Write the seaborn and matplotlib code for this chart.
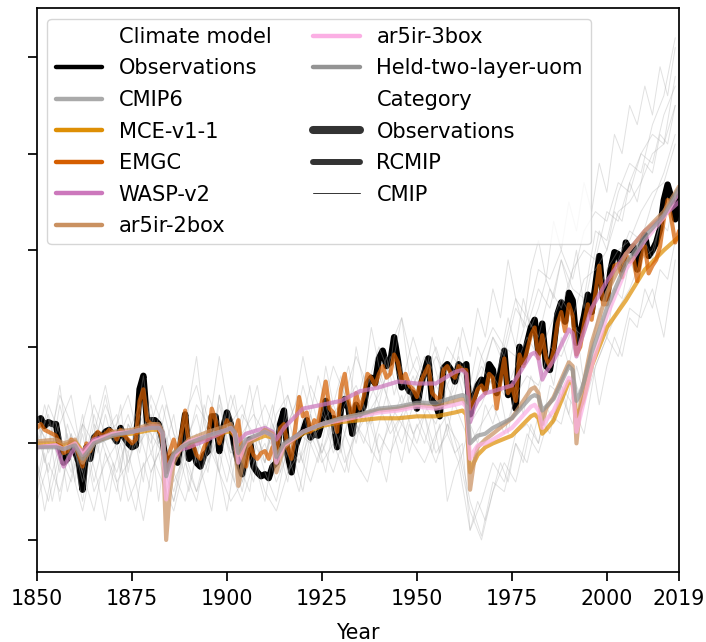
import numpy as np
import pandas as pd
import matplotlib
matplotlib.use("Agg")
import matplotlib.pyplot as plt
import seaborn as sns
from matplotlib.lines import Line2D

# ---------------- data ----------------
OBS_YEARS = list(range(1850, 2020))
OBS = [
    0.12, 0.13, 0.09, 0.11, 0.10, 0.10, -0.02, -0.10, -0.08, 0.00,
    -0.04, -0.10, -0.24, -0.02, -0.08, 0.03, 0.05, 0.03, 0.06, 0.07,
    0.04, 0.01, 0.08, 0.03, 0.00, -0.02, -0.01, 0.28, 0.35, 0.10,
    0.12, 0.12, 0.10, 0.02, -0.10, -0.08, -0.06, -0.10, 0.02, 0.15,
    -0.08, -0.02, -0.10, -0.12, -0.06, -0.04, 0.14, 0.14, -0.04, 0.08,
    0.16, 0.10, -0.02, -0.10, -0.16, -0.04, 0.02, -0.12, -0.15, -0.17,
    -0.16, -0.18, -0.12, -0.10, 0.10, 0.17, -0.06, -0.15, -0.02, 0.04,
    0.06, 0.12, 0.03, 0.05, 0.04, 0.11, 0.22, 0.12, 0.13, -0.02,
    0.18, 0.23, 0.18, 0.05, 0.20, 0.15, 0.19, 0.31, 0.34, 0.31,
    0.44, 0.48, 0.40, 0.42, 0.55, 0.43, 0.29, 0.31, 0.27, 0.26,
    0.18, 0.30, 0.37, 0.44, 0.22, 0.20, 0.14, 0.39, 0.41, 0.38,
    0.32, 0.41, 0.39, 0.41, 0.15, 0.24, 0.30, 0.33, 0.28, 0.41,
    0.38, 0.26, 0.37, 0.48, 0.25, 0.31, 0.18, 0.50, 0.42, 0.52,
    0.60, 0.64, 0.47, 0.62, 0.40, 0.38, 0.50, 0.67, 0.73, 0.63,
    0.78, 0.74, 0.52, 0.57, 0.66, 0.77, 0.68, 0.82, 0.97, 0.75,
    0.75, 0.90, 0.99, 0.98, 0.90, 1.04, 1.00, 1.02, 0.90, 1.02,
    1.08, 0.97, 1.00, 1.04, 1.11, 1.26, 1.34, 1.27, 1.16, 1.28,
]
EMGC = [
    0.08, 0.10, 0.07, 0.06, 0.05, 0.04, 0.00, -0.05, -0.04, 0.02,
    0.00, -0.06, -0.12, 0.00, -0.04, 0.03, 0.06, 0.04, 0.05, 0.07,
    0.06, 0.02, 0.07, 0.04, 0.02, 0.00, 0.02, 0.22, 0.28, 0.12,
    0.10, 0.10, 0.08, 0.02, -0.12, -0.04, 0.02, -0.06, 0.05, 0.17,
    -0.02, 0.00, -0.06, -0.08, -0.02, 0.02, 0.18, 0.12, 0.00, 0.06,
    0.12, 0.08, 0.04, 0.12, -0.06, -0.12, 0.00, -0.06, -0.08, -0.05,
    -0.04, -0.08, -0.02, -0.06, 0.08, 0.10, -0.02, -0.08, 0.08, 0.24,
    0.14, 0.16, 0.06, 0.12, 0.10, 0.22, 0.32, 0.18, 0.16, 0.06,
    0.28, 0.36, 0.22, 0.12, 0.26, 0.18, 0.24, 0.36, 0.34, 0.30,
    0.36, 0.40, 0.34, 0.36, 0.46, 0.42, 0.32, 0.36, 0.30, 0.28,
    0.24, 0.32, 0.36, 0.40, 0.26, 0.24, 0.22, 0.38, 0.40, 0.36,
    0.34, 0.40, 0.38, 0.38, 0.18, 0.22, 0.28, 0.30, 0.26, 0.36,
    0.34, 0.18, 0.32, 0.44, 0.26, 0.30, 0.22, 0.46, 0.40, 0.48,
    0.56, 0.60, 0.44, 0.56, 0.44, 0.40, 0.48, 0.62, 0.68, 0.58,
    0.72, 0.66, 0.46, 0.50, 0.62, 0.72, 0.64, 0.78, 0.92, 0.72,
    0.72, 0.84, 0.92, 0.93, 0.86, 0.98, 0.94, 0.96, 0.84, 0.96,
    1.02, 0.88, 0.92, 0.95, 1.02, 1.16, 1.26, 1.16, 1.04, 1.10,
]

MODEL_YEARS = [
    1850, 1855, 1857, 1860, 1862, 1865, 1870, 1875, 1880, 1882,
    1883, 1884, 1885, 1886, 1888, 1890, 1895, 1900, 1901, 1902,
    1903, 1905, 1910, 1912, 1913, 1915, 1920, 1925, 1930, 1935,
    1940, 1945, 1950, 1955, 1960, 1962, 1963, 1964, 1965, 1966,
    1968, 1970, 1975, 1980, 1981, 1982, 1983, 1984, 1986, 1990,
    1991, 1992, 1993, 1994, 1996, 2000, 2005, 2010, 2015, 2019,
]
MCE = [
    0.00, 0.00, -0.01, 0.01, -0.04, 0.01, 0.04, 0.05, 0.07, 0.07,
    0.04, -0.15, -0.10, -0.05, -0.02, 0.00, 0.03, 0.06, 0.06, 0.04,
    -0.06, 0.00, 0.04, 0.03, -0.06, -0.01, 0.05, 0.09, 0.11, 0.12,
    0.13, 0.13, 0.14, 0.14, 0.16, 0.17, 0.15, -0.15, -0.10, -0.06,
    -0.02, 0.00, 0.04, 0.14, 0.15, 0.13, 0.05, 0.07, 0.12, 0.32,
    0.31, 0.14, 0.18, 0.24, 0.40, 0.60, 0.74, 0.90, 1.00, 1.07,
]
WASP = [
    -0.02, -0.01, -0.12, -0.02, -0.04, 0.02, 0.05, 0.06, 0.09, 0.09,
    0.06, -0.15, -0.10, -0.06, -0.03, -0.02, 0.02, 0.07, 0.08, 0.06,
    0.01, 0.05, 0.08, 0.06, 0.02, 0.08, 0.18, 0.20, 0.22, 0.27,
    0.29, 0.32, 0.31, 0.31, 0.37, 0.38, 0.36, 0.11, 0.18, 0.22,
    0.26, 0.27, 0.30, 0.46, 0.47, 0.44, 0.33, 0.37, 0.43, 0.59,
    0.57, 0.45, 0.52, 0.58, 0.70, 0.84, 0.98, 1.10, 1.18, 1.25,
]
AR5IR_2BOX = [
    0.01, 0.02, 0.00, 0.02, -0.10, 0.00, 0.06, 0.07, 0.10, 0.10,
    0.06, -0.50, -0.25, -0.10, -0.02, 0.02, 0.06, 0.09, 0.10, 0.06,
    -0.22, -0.02, 0.07, 0.05, -0.15, -0.02, 0.06, 0.10, 0.13, 0.15,
    0.17, 0.18, 0.20, 0.19, 0.22, 0.23, 0.20, -0.24, -0.10, -0.02,
    0.02, 0.05, 0.13, 0.28, 0.29, 0.26, 0.10, 0.18, 0.24, 0.42,
    0.40, 0.00, 0.20, 0.32, 0.52, 0.78, 0.98, 1.10, 1.20, 1.33,
]
AR5IR_3BOX = [
    -0.02, -0.01, -0.03, 0.00, -0.06, 0.01, 0.05, 0.06, 0.08, 0.08,
    0.05, -0.29, -0.15, -0.07, -0.02, 0.01, 0.04, 0.07, 0.08, 0.05,
    -0.10, 0.01, 0.06, 0.04, -0.10, -0.01, 0.06, 0.10, 0.12, 0.14,
    0.16, 0.17, 0.19, 0.18, 0.20, 0.21, 0.19, -0.08, -0.04, -0.01,
    0.00, 0.02, 0.08, 0.19, 0.20, 0.17, 0.08, 0.12, 0.17, 0.34,
    0.32, 0.06, 0.14, 0.22, 0.40, 0.66, 0.90, 1.05, 1.17, 1.30,
]
HELD = [
    -0.02, -0.02, -0.03, -0.01, -0.08, 0.00, 0.04, 0.06, 0.08, 0.08,
    0.06, -0.17, -0.10, -0.05, -0.02, 0.00, 0.04, 0.07, 0.08, 0.06,
    -0.05, 0.02, 0.06, 0.04, -0.07, 0.00, 0.06, 0.10, 0.13, 0.15,
    0.18, 0.19, 0.21, 0.21, 0.24, 0.25, 0.24, 0.00, 0.02, 0.04,
    0.05, 0.08, 0.13, 0.24, 0.25, 0.24, 0.17, 0.19, 0.23, 0.40,
    0.38, 0.22, 0.26, 0.32, 0.47, 0.70, 0.93, 1.07, 1.18, 1.32,
]

# CMIP6 members, every third year
CMIP_YEARS_A = list(range(1850, 2020, 3))
CMIP_1 = [0.05, -0.15, 0.20, -0.05, 0.10, -0.20, 0.05, 0.15, -0.10, 0.10,
          0.05, -0.05, -0.25, 0.00, 0.15, -0.10, 0.20, -0.05, 0.00, -0.20,
          0.10, 0.00, 0.15, -0.10, 0.05, 0.20, 0.00, 0.30, 0.10, 0.35,
          0.20, 0.45, 0.30, 0.55, 0.35, 0.50, 0.30, 0.45, 0.20, 0.35,
          0.55, 0.45, 0.70, 0.60, 0.80, 0.70, 0.95, 0.80, 0.75, 1.10,
          1.05, 1.30, 1.45, 1.40, 1.65, 1.80, 2.10]
CMIP_2 = [-0.20, 0.10, -0.30, 0.05, -0.15, 0.15, -0.05, -0.25, 0.10, 0.00,
          0.20, -0.10, -0.30, -0.05, 0.05, -0.15, 0.25, 0.00, -0.25, 0.05,
          -0.15, -0.30, 0.00, -0.10, 0.15, -0.05, 0.10, -0.10, 0.05, 0.15,
          -0.05, 0.10, 0.25, 0.05, 0.15, -0.05, 0.05, -0.10, -0.45, -0.30,
          -0.10, -0.20, 0.05, 0.10, 0.00, 0.30, 0.25, 0.10, 0.35, 0.60,
          0.80, 0.95, 1.10, 1.05, 1.25, 1.40, 1.60]
CMIP_3 = [0.15, -0.05, 0.10, 0.25, -0.10, 0.05, 0.30, 0.00, 0.15, -0.05,
          0.25, 0.10, -0.10, 0.15, 0.30, 0.05, 0.45, 0.10, 0.20, 0.00,
          -0.10, 0.15, 0.25, 0.05, 0.30, 0.15, 0.40, 0.25, 0.45, 0.30,
          0.50, 0.35, 0.65, 0.40, 0.30, 0.45, 0.35, 0.55, 0.25, 0.40,
          0.30, 0.50, 0.45, 0.65, 0.55, 0.80, 0.70, 0.90, 1.00, 0.95,
          1.20, 1.15, 1.35, 1.50, 1.45, 1.70, 1.85]
CMIP_4 = [-0.10, -0.30, -0.05, -0.20, 0.05, -0.25, -0.10, 0.00, -0.30, -0.15,
          -0.05, -0.20, -0.35, -0.10, -0.25, 0.00, -0.15, -0.30, -0.20, -0.05,
          -0.25, -0.35, -0.15, -0.05, -0.20, 0.00, -0.15, 0.05, -0.10, -0.20,
          0.05, -0.05, 0.10, 0.00, -0.10, 0.05, 0.15, -0.05, -0.35, -0.50,
          -0.25, -0.10, -0.20, 0.05, -0.05, 0.15, 0.10, 0.35, 0.20, 0.40,
          0.55, 0.45, 0.70, 0.65, 0.80, 0.55, 0.95]
CMIP_5 = [0.00, 0.15, -0.10, 0.05, -0.20, 0.10, 0.00, -0.15, 0.05, 0.20,
          -0.05, 0.10, -0.15, -0.30, -0.05, 0.10, 0.00, 0.15, -0.10, 0.05,
          -0.05, 0.10, -0.15, 0.05, 0.00, 0.10, 0.20, 0.05, 0.25, 0.10,
          0.20, 0.05, 0.15, 0.30, 0.20, 0.10, 0.30, 0.15, 0.00, 0.10,
          0.20, 0.05, 0.25, 0.35, 0.30, 0.50, 0.45, 0.60, 0.55, 0.75,
          0.90, 1.00, 1.05, 1.20, 1.30, 1.35, 1.55]
CMIP_6 = [-0.05, 0.20, 0.05, -0.15, 0.10, 0.00, 0.20, 0.05, -0.05, 0.15,
          0.00, 0.20, -0.05, 0.10, -0.10, 0.25, 0.10, -0.05, 0.15, 0.05,
          0.20, 0.05, -0.05, 0.20, 0.10, -0.05, 0.15, 0.25, 0.05, 0.20,
          0.35, 0.20, 0.10, 0.30, 0.45, 0.30, 0.50, 0.40, 0.20, 0.45,
          0.60, 0.50, 0.75, 0.65, 0.90, 0.85, 1.00, 0.85, 1.10, 1.20,
          1.15, 1.35, 1.30, 1.50, 1.60, 1.55, 1.90]
CMIP_7 = [-0.30, -0.10, -0.25, 0.00, -0.15, -0.35, -0.05, -0.20, -0.10, 0.05,
          -0.15, 0.00, -0.20, -0.05, -0.25, -0.10, 0.05, -0.15, -0.30, -0.10,
          0.00, -0.20, -0.05, -0.25, 0.05, -0.10, 0.00, -0.15, 0.10, 0.00,
          -0.10, 0.15, 0.00, 0.20, 0.05, -0.10, 0.10, 0.00, -0.30, -0.48,
          -0.20, -0.25, 0.00, -0.10, 0.15, 0.05, 0.30, 0.20, 0.05, 0.40,
          0.55, 0.70, 0.80, 0.95, 1.00, 1.20, 1.30]
CMIP_8 = [0.10, 0.00, 0.25, 0.10, -0.05, 0.20, 0.05, 0.10, 0.25, 0.00,
          0.10, 0.30, 0.05, -0.05, 0.20, 0.10, 0.00, 0.25, 0.05, 0.15,
          0.05, -0.05, 0.10, 0.25, 0.00, 0.15, 0.05, 0.20, 0.30, 0.15,
          0.25, 0.40, 0.20, 0.35, 0.15, 0.30, 0.20, 0.35, 0.10, 0.20,
          0.35, 0.25, 0.40, 0.55, 0.45, 0.60, 0.75, 0.65, 0.85, 0.90,
          1.00, 1.20, 1.25, 1.35, 1.50, 1.55, 1.75]
# CMIP6 members, every second year
CMIP_YEARS_B = list(range(1850, 2020, 2))
CMIP_9 = [0.20, -0.10, 0.05, 0.30, 0.00, -0.20, 0.10, 0.25, -0.05, 0.15,
          0.00, 0.20, -0.15, 0.10, 0.35, 0.05, -0.30, 0.00, 0.15, -0.10,
          0.20, 0.45, 0.10, -0.05, 0.25, 0.00, -0.20, 0.10, 0.30, 0.05,
          -0.10, 0.15, 0.35, 0.10, 0.20, 0.45, 0.25, 0.10, 0.40, 0.20,
          0.35, 0.15, 0.50, 0.30, 0.60, 0.40, 0.25, 0.55, 0.65, 0.35,
          0.45, 0.30, 0.55, 0.40, 0.20, 0.35, 0.60, 0.45, 0.70, 0.55,
          0.80, 0.65, 0.95, 0.75, 0.60, 0.90, 1.05, 0.85, 1.15, 1.00,
          1.25, 1.10, 1.35, 1.20, 1.45, 1.30, 1.60, 1.50, 1.75, 1.65,
          1.85, 1.70, 1.95, 1.80, 2.05]
CMIP_10 = [-0.25, -0.05, -0.30, -0.10, 0.05, -0.20, -0.35, -0.15, 0.00, -0.25,
           -0.10, -0.30, -0.05, -0.20, -0.40, -0.15, -0.05, -0.25, -0.10, 0.05,
           -0.20, -0.30, -0.10, 0.00, -0.15, -0.35, -0.10, -0.20, 0.00, -0.15,
           -0.30, -0.05, -0.15, 0.05, -0.10, -0.25, 0.00, -0.10, 0.10, -0.05,
           0.05, -0.15, 0.10, 0.00, 0.15, -0.05, -0.20, 0.05, -0.10, 0.10,
           0.00, 0.15, -0.05, 0.10, -0.30, -0.15, -0.05, 0.10, 0.00, 0.20,
           0.10, 0.25, 0.05, 0.30, 0.15, 0.35, 0.25, 0.45, 0.30, 0.55,
           0.40, 0.60, 0.30, 0.50, 0.70, 0.55, 0.80, 0.75, 0.95, 0.85,
           1.05, 0.95, 1.15, 1.10, 1.30]
CMIP_11 = [0.00, 0.20, 0.05, -0.15, 0.10, -0.05, 0.15, -0.10, 0.05, 0.25,
           0.05, -0.15, 0.10, 0.00, -0.20, 0.15, 0.00, 0.20, 0.05, -0.10,
           0.10, -0.05, 0.20, 0.05, -0.15, 0.10, 0.25, 0.00, 0.15, 0.30,
           0.05, 0.20, 0.00, 0.25, 0.10, 0.30, 0.15, 0.35, 0.20, 0.05,
           0.25, 0.40, 0.20, 0.35, 0.10, 0.30, 0.45, 0.25, 0.40, 0.20,
           0.35, 0.20, 0.45, 0.30, 0.05, 0.25, 0.40, 0.30, 0.50, 0.40,
           0.55, 0.45, 0.65, 0.50, 0.75, 0.60, 0.70, 0.85, 0.75, 0.95,
           0.80, 1.00, 0.70, 0.90, 1.10, 1.00, 1.20, 1.15, 1.35, 1.25,
           1.45, 1.40, 1.60, 1.55, 1.75]
CMIP_12 = [-0.10, -0.35, -0.15, 0.00, -0.25, -0.10, -0.30, -0.05, -0.20, -0.40,
           -0.15, 0.00, -0.20, -0.35, -0.10, -0.25, 0.05, -0.15, -0.30, -0.10,
           -0.25, -0.05, -0.20, -0.35, -0.05, -0.20, 0.00, -0.15, -0.25, 0.05,
           -0.10, 0.10, -0.05, -0.20, 0.05, -0.10, 0.15, 0.00, -0.15, 0.10,
           -0.05, 0.15, 0.00, 0.20, -0.05, 0.10, 0.25, 0.05, 0.15, -0.05,
           0.10, 0.00, 0.15, -0.05, 0.10, -0.05, 0.00, -0.45, -0.30, -0.40,
           -0.25, -0.10, -0.20, 0.00, -0.10, 0.10, 0.00, 0.20, 0.10, 0.30,
           0.15, 0.40, 0.25, 0.45, 0.20, 0.40, 0.55, 0.45, 0.65, 0.60,
           0.80, 0.70, 0.90, 0.85, 1.05]
CMIP_MEMBERS_A = [CMIP_1, CMIP_2, CMIP_3, CMIP_4, CMIP_5, CMIP_6, CMIP_7, CMIP_8]
CMIP_MEMBERS_B = [CMIP_9, CMIP_10, CMIP_11, CMIP_12]

MODEL_ORDER = ["Observations", "CMIP6", "MCE-v1-1", "EMGC", "WASP-v2",
               "ar5ir-2box", "ar5ir-3box", "Held-two-layer-uom"]
MODEL_COLORS = ["black", "#aaaaaa", "#DE8F05", "#D55E00", "#CC78BC",
                "#CA9161", "#FBAFE4", "#949494"]
CATEGORY_ORDER = ["Observations", "RCMIP", "CMIP"]
XTICKS = [1850, 1875, 1900, 1925, 1950, 1975, 2000, 2019]
YTICKS = [-0.5, 0.0, 0.5, 1.0, 1.5, 2.0]

# ---------------- build long table ----------------
rows = []
def add(model, cat, unit, years, vals):
    for y, v in zip(years, vals):
        rows.append({"Year": y, "value": v, "Climate model": model,
                     "Category": cat, "unit": unit})

add("Observations", "Observations", "obs", OBS_YEARS, OBS)
for i, mem in enumerate(CMIP_MEMBERS_A):
    add("CMIP6", "CMIP", f"cmipA{i}", CMIP_YEARS_A, mem)
for i, mem in enumerate(CMIP_MEMBERS_B):
    add("CMIP6", "CMIP", f"cmipB{i}", CMIP_YEARS_B, mem)
add("MCE-v1-1", "RCMIP", "mce", MODEL_YEARS, MCE)
add("EMGC", "RCMIP", "emgc", OBS_YEARS, EMGC)
add("WASP-v2", "RCMIP", "wasp", MODEL_YEARS, WASP)
add("ar5ir-2box", "RCMIP", "ar2", MODEL_YEARS, AR5IR_2BOX)
add("ar5ir-3box", "RCMIP", "ar3", MODEL_YEARS, AR5IR_3BOX)
add("Held-two-layer-uom", "RCMIP", "held", MODEL_YEARS, HELD)
df = pd.DataFrame(rows)

# ---------------- plot ----------------
sns.set_theme(style="ticks")
plt.rcParams.update({
    "font.family": ["DejaVu Sans"],
    "text.color": "black",
    "axes.labelcolor": "black",
    "axes.edgecolor": "black",
    "xtick.color": "black",
    "ytick.color": "black",
    "axes.linewidth": 1.25,
    "xtick.major.width": 1.25,
    "ytick.major.width": 1.25,
    "xtick.major.size": 6.5,
    "ytick.major.size": 6.5,
    "xtick.major.pad": 5.5,
    "xtick.labelsize": 14.8,
    "ytick.labelsize": 14.8,
    "axes.labelsize": 14.8,
})

fig = plt.figure(figsize=(7.06, 6.42), dpi=100)
ax = fig.add_axes([0.0524, 0.109, 0.9094, 0.8785])

palette = dict(zip(MODEL_ORDER, MODEL_COLORS))
sizes = {"Observations": 4.6, "RCMIP": 3.0, "CMIP": 0.7}
sns.lineplot(data=df, x="Year", y="value", hue="Climate model",
             size="Category", units="unit", estimator=None,
             hue_order=MODEL_ORDER, size_order=CATEGORY_ORDER,
             palette=palette, sizes=sizes, legend=False, ax=ax)

for line in ax.lines:
    lw = line.get_linewidth()
    if lw < 1:
        line.set_alpha(0.35)
    elif lw > 4:
        line.set_alpha(1.0)
    else:
        line.set_alpha(0.72)

ax.set_xlim(1850, 2019)
ax.set_xticks(XTICKS)
ax.set_ylim(-0.666, 2.254)
ax.set_yticks(YTICKS)
ax.set_yticklabels([])
ax.set_ylabel("")
ax.set_xlabel("Year", labelpad=10)

# legend in seaborn's style: subtitles as entries
handles = [Line2D([], [], color="none", lw=0)]
handles += [Line2D([], [], color=c, lw=3.2) for c in MODEL_COLORS]
labels = ["Climate model"] + MODEL_ORDER
handles += [Line2D([], [], color="none", lw=0)]
labels += ["Category"]
for cat, w in zip(CATEGORY_ORDER, [5.8, 4.3, 0.7]):
    handles.append(Line2D([], [], color=".2", lw=w))
    labels.append(cat)
ax.legend(handles, labels, ncol=2, loc="upper left", fontsize=15.1,
          frameon=True, labelspacing=0.55, handlelength=2.2)

fig.savefig("out.png", dpi=100)
